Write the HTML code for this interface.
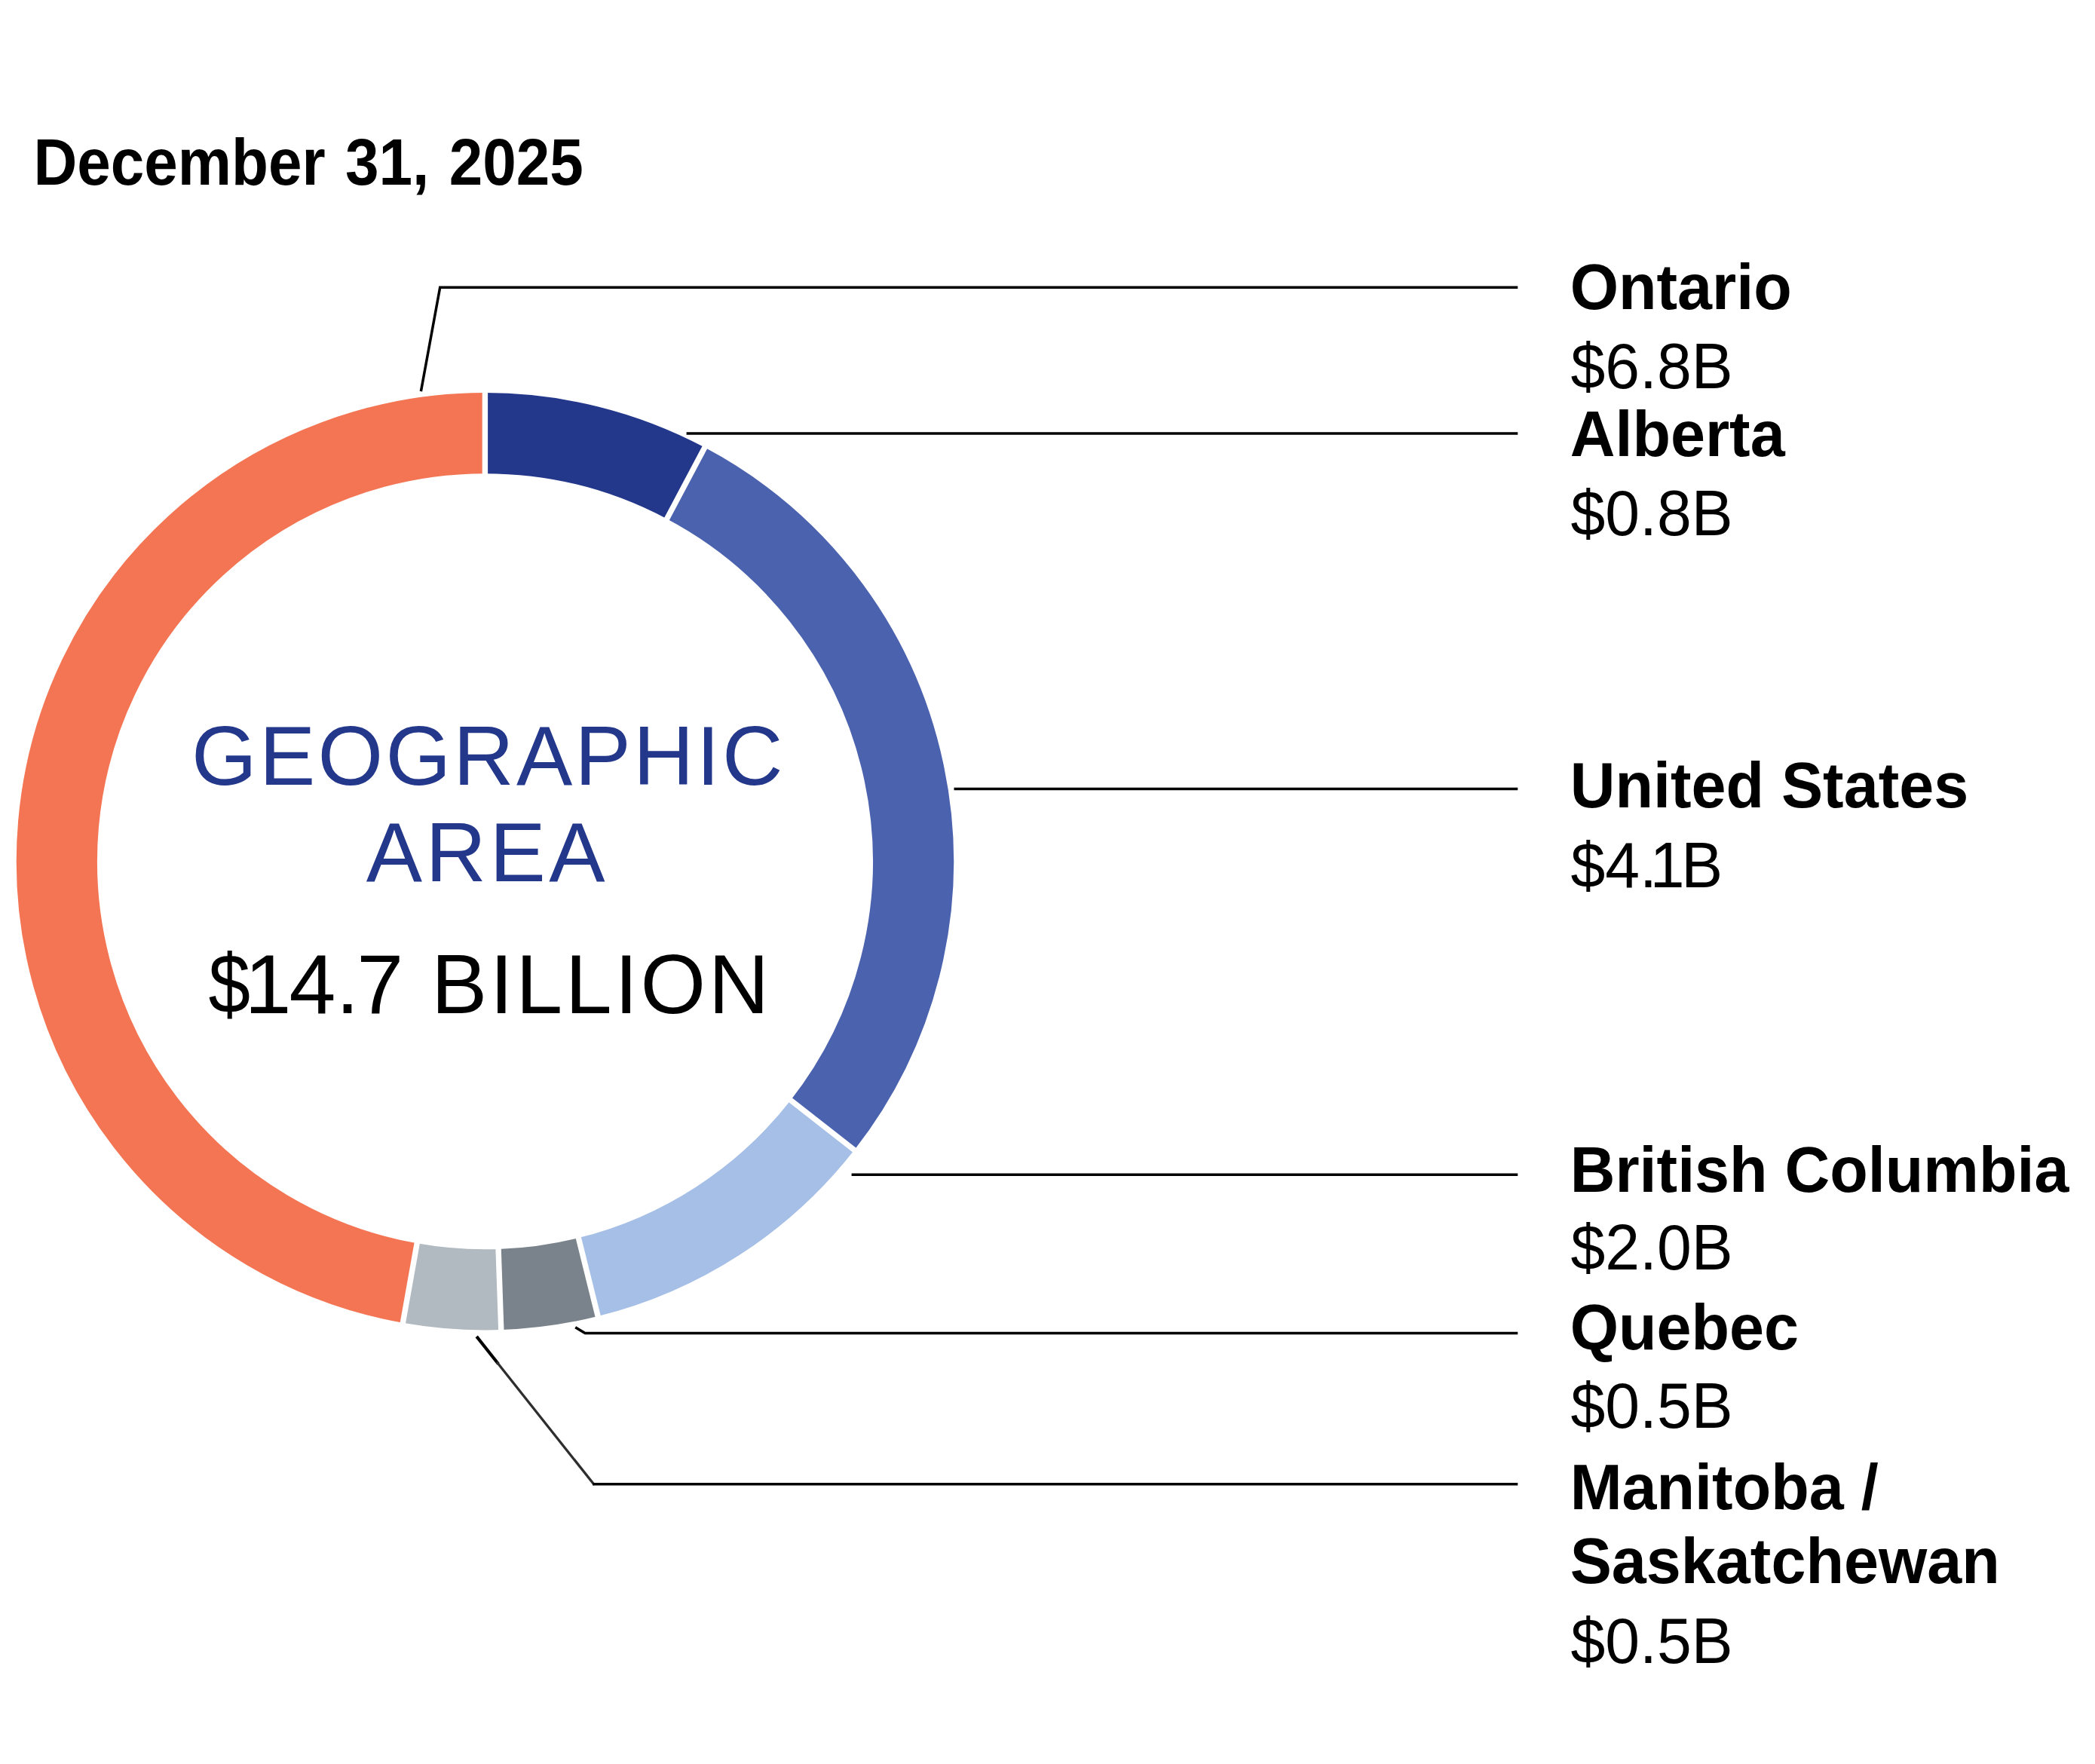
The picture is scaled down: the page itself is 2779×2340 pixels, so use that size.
<!DOCTYPE html>
<html><head><meta charset="utf-8"><title>Geographic Area</title>
<style>
html,body{margin:0;padding:0;background:#fff;width:2779px;height:2340px;overflow:hidden;}
svg{display:block;}
text{font-family:"Liberation Sans",sans-serif;fill:#000;}
.b{font-weight:bold;font-size:85px;}
.r{font-size:86px;}
.t{font-weight:bold;font-size:86.5px;word-spacing:4.5px;}
.c{font-size:111.4px;}
.cb{fill:#23378b;letter-spacing:3.4px;}
</style></head><body>
<svg width="2779" height="2340" viewBox="0 0 2779 2340">
<rect width="2779" height="2340" fill="#fff"/>
<text class="t" transform="translate(44.5 244.8) scale(0.9255 1)">December 31, 2025</text>
<path d="M643.40 574.67 A568.08 568.08 0 0 1 909.66 640.94" stroke="#23378b" stroke-width="107.15" fill="none"/><path d="M909.66 640.94 A568.08 568.08 0 0 1 1091.05 1492.49" stroke="#4b62ae" stroke-width="107.15" fill="none"/><path d="M1091.05 1492.49 A568.08 568.08 0 0 1 780.25 1694.09" stroke="#a6bfe6" stroke-width="107.15" fill="none"/><path d="M780.25 1694.09 A568.08 568.08 0 0 1 662.93 1710.49" stroke="#7a838b" stroke-width="107.15" fill="none"/><path d="M662.93 1710.49 A568.08 568.08 0 0 1 543.78 1702.02" stroke="#b1bac1" stroke-width="107.15" fill="none"/><path d="M543.78 1702.02 A568.08 568.08 0 0 1 643.40 574.67" stroke="#f47553" stroke-width="107.15" fill="none"/>
<line x1="643.40" y1="631.25" x2="643.40" y2="518.10" stroke="#fff" stroke-width="7.4"/><line x1="883.14" y1="690.91" x2="936.17" y2="590.96" stroke="#fff" stroke-width="7.4"/><line x1="1046.47" y1="1457.66" x2="1135.63" y2="1527.32" stroke="#fff" stroke-width="7.4"/><line x1="766.62" y1="1639.19" x2="793.88" y2="1749.00" stroke="#fff" stroke-width="7.4"/><line x1="660.98" y1="1653.95" x2="664.87" y2="1767.03" stroke="#fff" stroke-width="7.4"/><line x1="553.70" y1="1646.32" x2="533.86" y2="1757.72" stroke="#fff" stroke-width="7.4"/>
<path d="M632.2 1772.9 L661 1809.2" fill="none" stroke="#000" stroke-width="4.2"/><path d="M659 1806.7 L788.4 1969.8" fill="none" stroke="#2e2e2e" stroke-width="3.3"/><path d="M558.4 519.1 L583.7 381.2 H2013.3" fill="none" stroke="#000" stroke-width="3.5" stroke-linejoin="miter"/><path d="M910.6 575 H2013.3" fill="none" stroke="#000" stroke-width="3.5" stroke-linejoin="miter"/><path d="M1265.5 1046.6 H2013.3" fill="none" stroke="#000" stroke-width="3.5" stroke-linejoin="miter"/><path d="M1129.6 1558.3 H2013.3" fill="none" stroke="#000" stroke-width="3.5" stroke-linejoin="miter"/><path d="M763.2 1760.7 L776.1 1768.6 H2013.3" fill="none" stroke="#000" stroke-width="3.5" stroke-linejoin="miter"/><path d="M786.2 1968.8 H2013.3" fill="none" stroke="#000" stroke-width="3.5" stroke-linejoin="miter"/>
<text class="c cb" x="254.1" y="1041" style="letter-spacing:3.25px">GEOGRAPHIC</text>
<text class="c cb" x="485.8" y="1169.3" style="letter-spacing:4.5px">AREA</text>
<text class="c" y="1343.6"><tspan x="276.6" textLength="55.5" lengthAdjust="spacingAndGlyphs">$</tspan><tspan x="324.5">1</tspan><tspan x="383.5">4.</tspan><tspan dx="-3.2">7 </tspan><tspan x="572" letter-spacing="3.5">BILLION</tspan></text>
<text class="b" transform="translate(2082.7 410.2) scale(0.973 1)">Ontario</text>
<text class="r" transform="translate(2083.5 515.2) scale(0.957 1)">$6.8B</text>
<text class="b" transform="translate(2082.7 605.4) scale(0.973 1)">Alberta</text>
<text class="r" transform="translate(2083.5 709.5) scale(0.957 1)">$0.8B</text>
<text class="b" transform="translate(2082.7 1071.2) scale(0.973 1)">United States</text>
<text class="r" transform="translate(2083.5 1176.8) scale(0.957 1)">$4.<tspan dx="-9.5">1</tspan><tspan dx="-4.5">B</tspan></text>
<text class="b" transform="translate(2082.7 1580.5) scale(0.973 1)">British Columbia</text>
<text class="r" transform="translate(2083.5 1684.4) scale(0.957 1)">$2.0B</text>
<text class="b" transform="translate(2082.7 1789.5) scale(0.973 1)">Quebec</text>
<text class="r" transform="translate(2083.5 1894.4) scale(0.957 1)">$0.5B</text>
<text class="b" transform="translate(2082.7 2002.2) scale(0.973 1)">Manitoba /</text>
<text class="b" transform="translate(2082.7 2100.4) scale(0.973 1)">Saskatchewan</text>
<text class="r" transform="translate(2083.5 2205.5) scale(0.957 1)">$0.5B</text>

</svg>
</body></html>
